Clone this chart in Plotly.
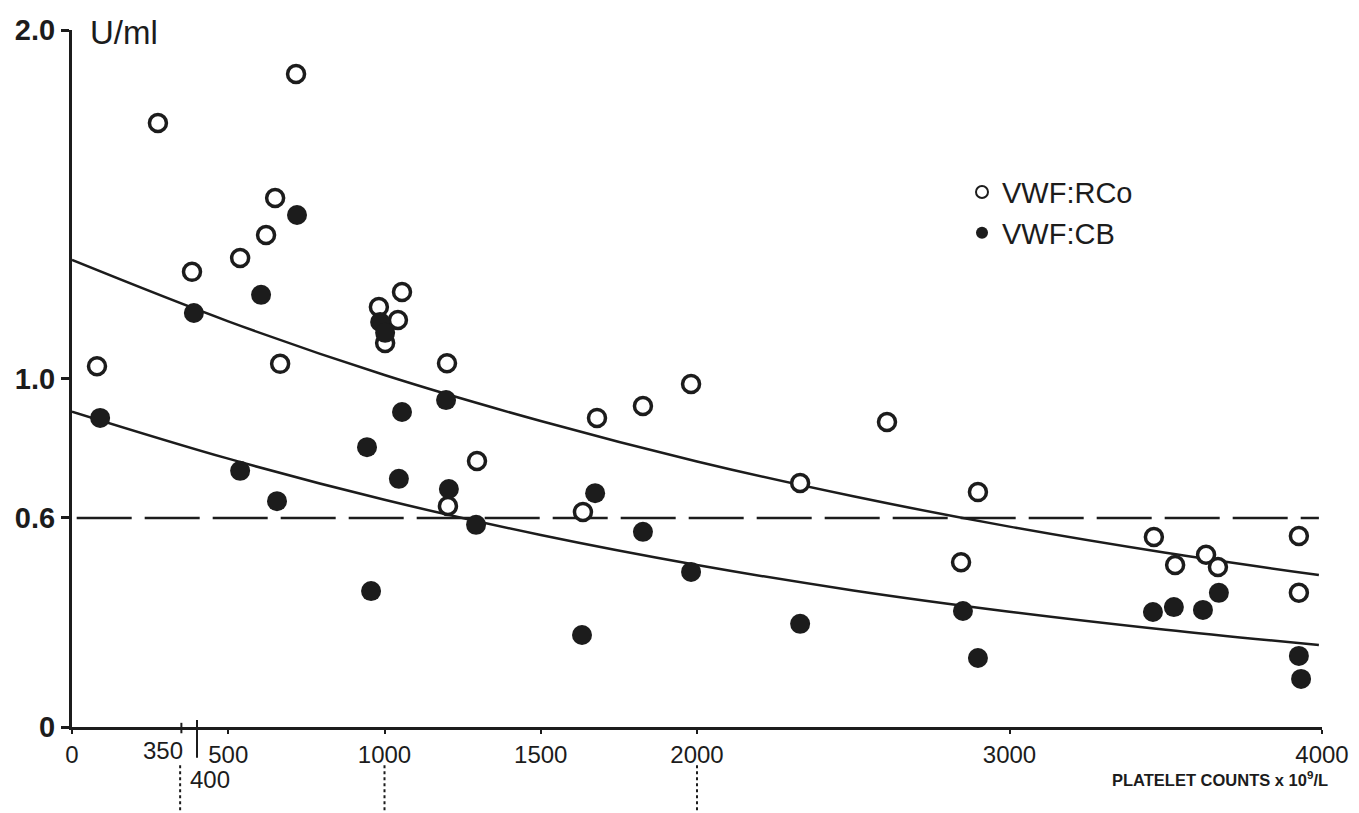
import plotly.graph_objects as go

# VWF:RCo (open circles)
rco_x = [80, 275, 384, 538, 621, 650, 717, 666, 982, 1056, 1043, 1002, 1200, 1296, 1203,
         1635, 1680, 1827, 1981, 2330, 2608, 2899, 2845, 3462, 3530, 3629, 3667, 3926, 3926]
rco_y = [1.035, 1.733, 1.306, 1.346, 1.412, 1.518, 1.874, 1.042, 1.205, 1.248, 1.168, 1.102, 1.044, 0.763, 0.634,
         0.617, 0.887, 0.921, 0.984, 0.700, 0.875, 0.674, 0.473, 0.545, 0.465, 0.494, 0.459, 0.548, 0.385]

# VWF:CB (filled circles)
cb_x = [90, 390, 605, 720, 986, 1002, 1197, 1056, 944, 538, 656, 1046, 1206, 1293,
        957, 1674, 1632, 1827, 1981, 2330, 2851, 2899, 3459, 3526, 3619, 3670, 3926, 3933]
cb_y = [0.887, 1.188, 1.240, 1.469, 1.162, 1.131, 0.938, 0.904, 0.803, 0.735, 0.648, 0.712, 0.683, 0.580,
        0.390, 0.671, 0.264, 0.560, 0.445, 0.296, 0.333, 0.198, 0.330, 0.344, 0.336, 0.385, 0.204, 0.138]

# fitted curves
curve_x = [0, 500, 1000, 1500, 2000, 2500, 3000, 3500, 3990]
rco_fit = [1.34, 1.164, 1.010, 0.878, 0.762, 0.662, 0.575, 0.500, 0.436]
cb_fit = [0.905, 0.770, 0.652, 0.551, 0.465, 0.392, 0.331, 0.279, 0.235]

cutoff = 0.6
x_ticks = [0, 500, 1000, 1500, 2000, 3000, 4000]
x_ticktext = ["0", "500", "1000", "1500", "2000", "3000", "4000"]
y_ticks = [0, 0.6, 1.0, 2.0]
y_ticktext = ["0", "0.6", "1.0", "2.0"]
dotted_at = [346, 1000, 2000]

ink = "#1c1c1c"
font = "Liberation Sans, Arial, sans-serif"

fig = go.Figure()

fig.add_trace(go.Scatter(x=curve_x, y=rco_fit, mode='lines', line_shape='spline',
                         line=dict(color=ink, width=2.5), showlegend=False, hoverinfo='none'))
fig.add_trace(go.Scatter(x=curve_x, y=cb_fit, mode='lines', line_shape='spline',
                         line=dict(color=ink, width=2.5), showlegend=False, hoverinfo='none'))
fig.add_trace(go.Scatter(x=[15, 3990], y=[cutoff, cutoff], mode='lines',
                         line=dict(color=ink, width=2.5, dash='55px,13px'), showlegend=False, hoverinfo='none'))

fig.add_trace(go.Scatter(x=rco_x, y=rco_y, mode='markers', name="VWF:RCo", cliponaxis=False,
                         marker=dict(symbol='circle', size=17, color='white', line=dict(color=ink, width=3.5))))
fig.add_trace(go.Scatter(x=cb_x, y=cb_y, mode='markers', name="VWF:CB", cliponaxis=False,
                         marker=dict(symbol='circle', size=20, color=ink, line=dict(color=ink, width=0))))

# dotted guide lines below the axis
for xv in dotted_at:
    fig.add_shape(type='line', xref='x', yref='paper', x0=xv, x1=xv, y0=-0.055, y1=-0.125,
                  line=dict(color=ink, width=2, dash='dot'))
# ticks at 350 and the long tick at 400
fig.add_shape(type='line', xref='x', yref='paper', x0=350, x1=350, y0=0.006, y1=-0.009,
              line=dict(color=ink, width=2))
fig.add_shape(type='line', xref='x', yref='paper', x0=400, x1=400, y0=0.01, y1=-0.044,
              line=dict(color=ink, width=2))

fig.add_annotation(x=362, y=-0.033, xref='x', yref='paper', text="350", showarrow=False,
                   xanchor='right', yanchor='middle', font=dict(family=font, size=24, color=ink))
fig.add_annotation(x=371, y=-0.076, xref='x', yref='paper', text="400", showarrow=False,
                   xanchor='left', yanchor='middle', font=dict(family=font, size=24, color=ink))
fig.add_annotation(x=0.013, y=0.997, xref='paper', yref='paper', text="U/ml", showarrow=False,
                   xanchor='left', yanchor='middle', font=dict(family=font, size=33, color=ink))
fig.add_annotation(x=1.006, y=-0.074, xref='paper', yref='paper',
                   text="<b>PLATELET COUNTS x 10<sup>9</sup>/L</b>", showarrow=False,
                   xanchor='right', yanchor='middle', font=dict(family=font, size=16.5, color=ink))

fig.update_layout(
    width=1359, height=813,
    margin=dict(l=72, r=37, t=30, b=86, autoexpand=False),
    paper_bgcolor='white', plot_bgcolor='white',
    font=dict(family=font, color=ink),
    legend=dict(x=0.712, y=0.804, xanchor='left', yanchor='top', bgcolor='rgba(0,0,0,0)',
                font=dict(family=font, size=29, color=ink), itemsizing='constant', tracegroupgap=0),
    xaxis=dict(range=[0, 4000], tickvals=x_ticks, ticktext=x_ticktext, showgrid=False, zeroline=False,
               showline=True, linecolor=ink, linewidth=2.5, ticks='outside', ticklen=4, tickwidth=2,
               tickcolor=ink, tickfont=dict(family=font, size=24, color=ink), automargin=False),
    yaxis=dict(range=[0, 2.0], tickvals=y_ticks, ticktext=y_ticktext, showgrid=False, zeroline=False,
               showline=True, linecolor=ink, linewidth=3, ticks='outside', ticklen=8, tickwidth=2.5,
               tickcolor=ink, tickfont=dict(family=font, size=29, color=ink, weight='bold'),
               automargin=False),
)

fig.write_html("out.html", config={'displayModeBar': False},
               post_script="document.body.style.margin='0px';")
